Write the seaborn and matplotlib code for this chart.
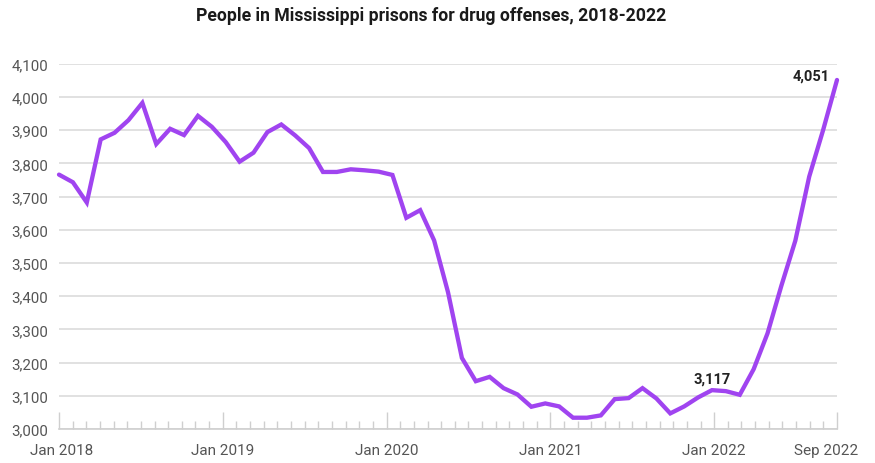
import numpy as np
import pandas as pd
import matplotlib
matplotlib.use("Agg")
import matplotlib.pyplot as plt
import matplotlib.transforms as mtransforms
from matplotlib.ticker import FuncFormatter, FixedLocator
import seaborn as sns

# ---- data (monthly, Jan 2018 - Sep 2022) ----
months = pd.date_range("2018-01-01", "2022-09-01", freq="MS").strftime("%b %Y").tolist()
people = [3766, 3743, 3682, 3872, 3892, 3930, 3982, 3858, 3904, 3885,
          3943, 3910, 3864, 3805, 3832, 3894, 3917, 3884, 3846, 3774,
          3774, 3782, 3779, 3775, 3765, 3636, 3659, 3568, 3412, 3214,
          3144, 3157, 3123, 3104, 3067, 3077, 3068, 3034, 3034, 3041,
          3090, 3093, 3123, 3092, 3047, 3068, 3095, 3117, 3114, 3103,
          3180, 3288, 3432, 3567, 3760, 3900, 4051]
tick_labels = ["Jan 2018", "Jan 2019", "Jan 2020", "Jan 2021", "Jan 2022", "Sep 2022"]
major_tick_idx = [0, 12, 24, 36, 48, 57]   # position on the month-tick grid
y_ticks = list(range(3000, 4101, 100))
annotated = {"3,117": 47, "4,051": 56}

title = "People in Mississippi prisons for drug offenses, 2018-2022"

df = pd.DataFrame({"idx": np.arange(len(people)), "month": months, "people": people})

# ---- style ----
sns.set_theme(style="white")
plt.rcParams["font.family"] = ["Roboto", "DejaVu Sans"]

fig = plt.figure(figsize=(8.75, 4.64), dpi=100)
ax = fig.add_axes([59 / 875, 34 / 464, (837 - 59) / 875, (430 - 64.7) / 464])

line_color = "#a044f0"
sns.lineplot(data=df, x="idx", y="people", ax=ax, color=line_color,
             linewidth=3.1, solid_joinstyle="miter", clip_on=False, zorder=3)

n = len(people) - 1
ax.set_xlim(0, n)
ax.set_ylim(3000, 4100)

# month tick grid (58 ticks across the data span)
ntick = 57
scale = n / ntick
ax.xaxis.set_major_locator(FixedLocator([k * scale for k in major_tick_idx]))
ax.xaxis.set_minor_locator(FixedLocator([k * scale for k in range(ntick + 1) if k not in major_tick_idx]))
ax.set_xticklabels(tick_labels)
ax.tick_params(axis="x", which="major", bottom=True, direction="in", length=12, width=1,
               color="#cfcfcf", pad=10, labelsize=11, labelcolor="#555555")
ax.tick_params(axis="x", which="minor", bottom=True, direction="in", length=5.5, width=1,
               color="#cfcfcf")
# nudge the end labels as in the reference
lbls = ax.get_xticklabels()
lbls[-1].set_transform(lbls[-1].get_transform()
                       + mtransforms.ScaledTranslation(-11 / 100, 0, fig.dpi_scale_trans))
lbls[0].set_transform(lbls[0].get_transform()
                      + mtransforms.ScaledTranslation(3 / 100, 0, fig.dpi_scale_trans))

ax.set_yticks(y_ticks)
ax.yaxis.set_major_formatter(FuncFormatter(lambda v, p: f"{int(v):,}"))
ax.tick_params(axis="y", length=0, pad=8, labelsize=10.8, labelcolor="#555555")

ax.grid(axis="y", color="#dcdcdc", linewidth=1.2)
ax.grid(axis="x", visible=False)
for s in ["top", "right", "left"]:
    ax.spines[s].set_visible(False)
ax.spines["bottom"].set_color("#cfcfcf")
ax.spines["bottom"].set_linewidth(1.2)
ax.set_xlabel("")
ax.set_ylabel("")

# annotations
i = annotated["3,117"]
ax.annotate("3,117", (i, people[i]), xytext=(0, 8), textcoords="offset points",
            ha="center", va="center", fontsize=10.5, fontweight="bold", color="#222222")
i = annotated["4,051"]
ax.annotate("4,051", (i, people[i]), xytext=(-5, 3), textcoords="offset points",
            ha="right", va="center", fontsize=10.5, fontweight="bold", color="#222222")

fig.text(431.5 / 875, 1 - 16 / 464, title, ha="center", va="center",
         fontsize=12.7, fontweight="bold", color="#1a1a1a")

fig.savefig("out.png", dpi=100)
